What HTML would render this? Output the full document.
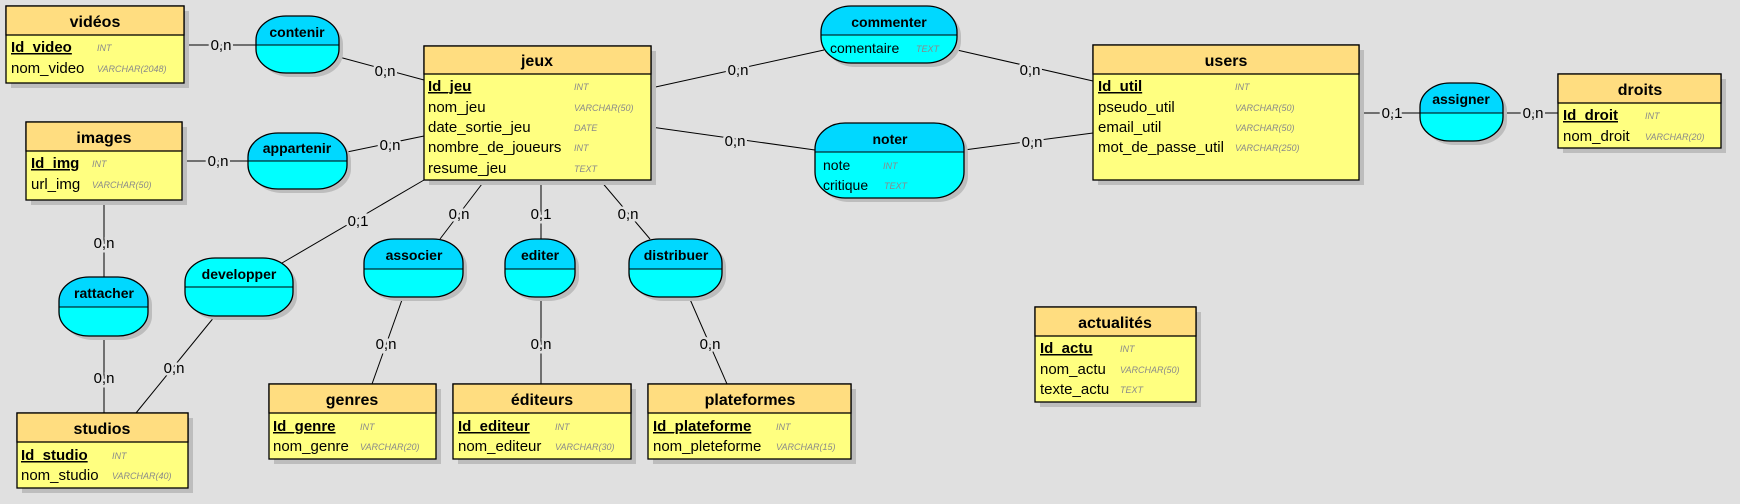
<!DOCTYPE html>
<html><head><meta charset="utf-8"><style>
html,body{margin:0;padding:0;background:#e0e0e0;}
svg{display:block;font-family:"Liberation Sans",sans-serif;}
.t{font-weight:bold;font-size:16px;text-anchor:middle;}
.a{font-size:15px;}
.k{font-size:15px;font-weight:bold;text-decoration:underline;}
.ty{font-size:9px;font-style:italic;fill:#8a8a8a;}
.l{font-size:15px;text-anchor:middle;paint-order:stroke;stroke:#e0e0e0;stroke-width:5px;}
.ln{stroke:#000;stroke-width:1;fill:none;}
.sh{fill:#bdbdbd;}
.body{fill:#ffff80;stroke:#000;stroke-width:1.3;}
.hd{fill:#ffdd80;stroke:#000;stroke-width:1.3;}
.top{fill:#00d8ff;}
.bot{fill:#00ffff;}
</style></head><body>
<svg width="1740" height="504" viewBox="0 0 1740 504">
<rect width="1740" height="504" fill="#e0e0e0"/>
<defs>
<clipPath id="c1"><rect x="256" y="16" width="83" height="57" rx="30" ry="24"/></clipPath>
<clipPath id="c2"><rect x="248" y="133" width="99" height="56" rx="30" ry="24"/></clipPath>
<clipPath id="c3"><rect x="821" y="6" width="136" height="57" rx="30" ry="26"/></clipPath>
<clipPath id="c4"><rect x="815" y="123" width="149" height="75" rx="30" ry="26"/></clipPath>
<clipPath id="c5"><rect x="1420" y="83" width="83" height="58" rx="30" ry="24"/></clipPath>
<clipPath id="c6"><rect x="59" y="277" width="89" height="59" rx="30" ry="24"/></clipPath>
<clipPath id="c7"><rect x="185" y="258" width="108" height="58" rx="30" ry="24"/></clipPath>
<clipPath id="c8"><rect x="364" y="239" width="99" height="58" rx="30" ry="24"/></clipPath>
<clipPath id="c9"><rect x="505" y="239" width="70" height="58" rx="30" ry="24"/></clipPath>
<clipPath id="c10"><rect x="629" y="239" width="93" height="58" rx="30" ry="24"/></clipPath>
</defs>

<!-- connectors -->
<g class="ln">
<line x1="184" y1="45" x2="256" y2="45"/>
<line x1="339" y1="57" x2="424" y2="80"/>
<line x1="182" y1="161" x2="248" y2="161"/>
<line x1="347" y1="152" x2="424" y2="136"/>
<line x1="651" y1="88" x2="824" y2="50"/>
<line x1="957" y1="50" x2="1093" y2="81"/>
<line x1="651" y1="127" x2="815" y2="150"/>
<line x1="964" y1="150" x2="1093" y2="133"/>
<line x1="1359" y1="113" x2="1420" y2="113"/>
<line x1="1503" y1="113" x2="1558" y2="113"/>
<line x1="104" y1="200" x2="104" y2="277"/>
<line x1="104" y1="336" x2="104" y2="413"/>
<line x1="424" y1="180" x2="282" y2="263"/>
<line x1="215" y1="316" x2="136" y2="413"/>
<line x1="485" y1="180" x2="440" y2="239"/>
<line x1="403" y1="297" x2="372" y2="384"/>
<line x1="541" y1="180" x2="541" y2="239"/>
<line x1="541" y1="297" x2="541" y2="384"/>
<line x1="600" y1="180" x2="650" y2="239"/>
<line x1="689" y1="297" x2="727" y2="384"/>
</g>

<!-- labels -->
<g class="l">
<text x="221" y="50">0,n</text>
<text x="385" y="76">0,n</text>
<text x="218" y="166">0,n</text>
<text x="390" y="150">0,n</text>
<text x="738" y="75">0,n</text>
<text x="1030" y="75">0,n</text>
<text x="735" y="146">0,n</text>
<text x="1032" y="147">0,n</text>
<text x="1392" y="118">0,1</text>
<text x="1533" y="118">0,n</text>
<text x="104" y="248">0,n</text>
<text x="104" y="383">0,n</text>
<text x="358" y="226">0,1</text>
<text x="174" y="373">0,n</text>
<text x="459" y="219">0,n</text>
<text x="386" y="349">0,n</text>
<text x="541" y="219">0,1</text>
<text x="541" y="349">0,n</text>
<text x="628" y="219">0,n</text>
<text x="710" y="349">0,n</text>
</g>

<!-- associations -->
<g>
<rect x="260" y="20" width="83" height="57" rx="30" ry="24" class="sh"/>
<g clip-path="url(#c1)"><rect x="256" y="16" width="83" height="29" class="top"/><rect x="256" y="45" width="83" height="28" class="bot"/></g>
<rect x="256" y="16" width="83" height="57" rx="30" ry="24" fill="none" stroke="#000" stroke-width="1.3"/>
<line x1="256" y1="45" x2="339" y2="45" stroke="#000"/>
<text x="297" y="37" class="t" style="font-size:14px">contenir</text>

<rect x="252" y="137" width="99" height="56" rx="30" ry="24" class="sh"/>
<g clip-path="url(#c2)"><rect x="248" y="133" width="99" height="28" class="top"/><rect x="248" y="161" width="99" height="28" class="bot"/></g>
<rect x="248" y="133" width="99" height="56" rx="30" ry="24" fill="none" stroke="#000" stroke-width="1.3"/>
<line x1="248" y1="161" x2="347" y2="161" stroke="#000"/>
<text x="297" y="153" class="t" style="font-size:14px">appartenir</text>

<rect x="825" y="10" width="136" height="57" rx="30" ry="26" class="sh"/>
<g clip-path="url(#c3)"><rect x="821" y="6" width="136" height="29" class="top"/><rect x="821" y="35" width="136" height="28" class="bot"/></g>
<rect x="821" y="6" width="136" height="57" rx="30" ry="26" fill="none" stroke="#000" stroke-width="1.3"/>
<line x1="821" y1="35" x2="957" y2="35" stroke="#000"/>
<text x="889" y="27" class="t" style="font-size:14px">commenter</text>
<text x="830" y="53" class="a" style="font-size:14px">comentaire</text>
<text x="916" y="52" class="ty">TEXT</text>

<rect x="819" y="127" width="149" height="75" rx="30" ry="26" class="sh"/>
<g clip-path="url(#c4)"><rect x="815" y="123" width="149" height="29" class="top"/><rect x="815" y="152" width="149" height="46" class="bot"/></g>
<rect x="815" y="123" width="149" height="75" rx="30" ry="26" fill="none" stroke="#000" stroke-width="1.3"/>
<line x1="815" y1="152" x2="964" y2="152" stroke="#000"/>
<text x="890" y="144" class="t" style="font-size:14px">noter</text>
<text x="823" y="170" class="a" style="font-size:14px">note</text>
<text x="883" y="169" class="ty">INT</text>
<text x="823" y="190" class="a" style="font-size:14px">critique</text>
<text x="884" y="189" class="ty">TEXT</text>

<rect x="1424" y="87" width="83" height="58" rx="30" ry="24" class="sh"/>
<g clip-path="url(#c5)"><rect x="1420" y="83" width="83" height="30" class="top"/><rect x="1420" y="113" width="83" height="28" class="bot"/></g>
<rect x="1420" y="83" width="83" height="58" rx="30" ry="24" fill="none" stroke="#000" stroke-width="1.3"/>
<line x1="1420" y1="113" x2="1503" y2="113" stroke="#000"/>
<text x="1461" y="104" class="t" style="font-size:14px">assigner</text>

<rect x="63" y="281" width="89" height="59" rx="30" ry="24" class="sh"/>
<g clip-path="url(#c6)"><rect x="59" y="277" width="89" height="30" class="top"/><rect x="59" y="307" width="89" height="29" class="bot"/></g>
<rect x="59" y="277" width="89" height="59" rx="30" ry="24" fill="none" stroke="#000" stroke-width="1.3"/>
<line x1="59" y1="307" x2="148" y2="307" stroke="#000"/>
<text x="104" y="298" class="t" style="font-size:14px">rattacher</text>

<rect x="189" y="262" width="108" height="58" rx="30" ry="24" class="sh"/>
<g clip-path="url(#c7)"><rect x="185" y="258" width="108" height="29" class="top" style="fill:#00ffff"/><rect x="185" y="287" width="108" height="29" class="bot"/></g>
<rect x="185" y="258" width="108" height="58" rx="30" ry="24" fill="none" stroke="#000" stroke-width="1.3"/>
<line x1="185" y1="287" x2="293" y2="287" stroke="#000"/>
<text x="239" y="279" class="t" style="font-size:14px">developper</text>

<rect x="368" y="243" width="99" height="58" rx="30" ry="24" class="sh"/>
<g clip-path="url(#c8)"><rect x="364" y="239" width="99" height="30" class="top"/><rect x="364" y="269" width="99" height="28" class="bot"/></g>
<rect x="364" y="239" width="99" height="58" rx="30" ry="24" fill="none" stroke="#000" stroke-width="1.3"/>
<line x1="364" y1="269" x2="463" y2="269" stroke="#000"/>
<text x="414" y="260" class="t" style="font-size:14px">associer</text>

<rect x="509" y="243" width="70" height="58" rx="30" ry="24" class="sh"/>
<g clip-path="url(#c9)"><rect x="505" y="239" width="70" height="30" class="top"/><rect x="505" y="269" width="70" height="28" class="bot"/></g>
<rect x="505" y="239" width="70" height="58" rx="30" ry="24" fill="none" stroke="#000" stroke-width="1.3"/>
<line x1="505" y1="269" x2="575" y2="269" stroke="#000"/>
<text x="540" y="260" class="t" style="font-size:14px">editer</text>

<rect x="633" y="243" width="93" height="58" rx="30" ry="24" class="sh"/>
<g clip-path="url(#c10)"><rect x="629" y="239" width="93" height="30" class="top"/><rect x="629" y="269" width="93" height="28" class="bot"/></g>
<rect x="629" y="239" width="93" height="58" rx="30" ry="24" fill="none" stroke="#000" stroke-width="1.3"/>
<line x1="629" y1="269" x2="722" y2="269" stroke="#000"/>
<text x="676" y="260" class="t" style="font-size:14px">distribuer</text>
</g>

<!-- entities -->
<!-- videos -->
<rect x="11" y="11" width="178" height="77" class="sh"/>
<rect x="6" y="6" width="178" height="77" class="body"/>
<rect x="6" y="6" width="178" height="29" class="hd"/>
<text x="95" y="27" class="t">vidéos</text>
<text x="11" y="52" class="k">Id_video</text><text x="97" y="51" class="ty">INT</text>
<text x="11" y="73" class="a">nom_video</text><text x="97" y="72" class="ty">VARCHAR(2048)</text>

<!-- images -->
<rect x="31" y="127" width="156" height="78" class="sh"/>
<rect x="26" y="122" width="156" height="78" class="body"/>
<rect x="26" y="122" width="156" height="29" class="hd"/>
<text x="104" y="143" class="t">images</text>
<text x="31" y="168" class="k">Id_img</text><text x="92" y="167" class="ty">INT</text>
<text x="31" y="189" class="a">url_img</text><text x="92" y="188" class="ty">VARCHAR(50)</text>

<!-- jeux -->
<rect x="429" y="51" width="227" height="134" class="sh"/>
<rect x="424" y="46" width="227" height="134" class="body"/>
<rect x="424" y="46" width="227" height="28" class="hd"/>
<text x="537" y="66" class="t">jeux</text>
<text x="428" y="91" class="k">Id_jeu</text><text x="574" y="90" class="ty">INT</text>
<text x="428" y="112" class="a">nom_jeu</text><text x="574" y="111" class="ty">VARCHAR(50)</text>
<text x="428" y="132" class="a">date_sortie_jeu</text><text x="574" y="131" class="ty">DATE</text>
<text x="428" y="152" class="a">nombre_de_joueurs</text><text x="574" y="151" class="ty">INT</text>
<text x="428" y="173" class="a">resume_jeu</text><text x="574" y="172" class="ty">TEXT</text>

<!-- users -->
<rect x="1098" y="50" width="266" height="135" class="sh"/>
<rect x="1093" y="45" width="266" height="135" class="body"/>
<rect x="1093" y="45" width="266" height="29" class="hd"/>
<text x="1226" y="66" class="t">users</text>
<text x="1098" y="91" class="k">Id_util</text><text x="1235" y="90" class="ty">INT</text>
<text x="1098" y="112" class="a">pseudo_util</text><text x="1235" y="111" class="ty">VARCHAR(50)</text>
<text x="1098" y="132" class="a">email_util</text><text x="1235" y="131" class="ty">VARCHAR(50)</text>
<text x="1098" y="152" class="a">mot_de_passe_util</text><text x="1235" y="151" class="ty">VARCHAR(250)</text>

<!-- droits -->
<rect x="1563" y="79" width="163" height="74" class="sh"/>
<rect x="1558" y="74" width="163" height="74" class="body"/>
<rect x="1558" y="74" width="163" height="29" class="hd"/>
<text x="1640" y="95" class="t">droits</text>
<text x="1563" y="120" class="k">Id_droit</text><text x="1645" y="119" class="ty">INT</text>
<text x="1563" y="141" class="a">nom_droit</text><text x="1645" y="140" class="ty">VARCHAR(20)</text>

<!-- studios -->
<rect x="22" y="418" width="171" height="75" class="sh"/>
<rect x="17" y="413" width="171" height="75" class="body"/>
<rect x="17" y="413" width="171" height="29" class="hd"/>
<text x="102" y="434" class="t">studios</text>
<text x="21" y="460" class="k">Id_studio</text><text x="112" y="459" class="ty">INT</text>
<text x="21" y="480" class="a">nom_studio</text><text x="112" y="479" class="ty">VARCHAR(40)</text>

<!-- genres -->
<rect x="274" y="389" width="167" height="75" class="sh"/>
<rect x="269" y="384" width="167" height="75" class="body"/>
<rect x="269" y="384" width="167" height="29" class="hd"/>
<text x="352" y="405" class="t">genres</text>
<text x="273" y="431" class="k">Id_genre</text><text x="360" y="430" class="ty">INT</text>
<text x="273" y="451" class="a">nom_genre</text><text x="360" y="450" class="ty">VARCHAR(20)</text>

<!-- editeurs -->
<rect x="458" y="389" width="178" height="75" class="sh"/>
<rect x="453" y="384" width="178" height="75" class="body"/>
<rect x="453" y="384" width="178" height="29" class="hd"/>
<text x="542" y="405" class="t">éditeurs</text>
<text x="458" y="431" class="k">Id_editeur</text><text x="555" y="430" class="ty">INT</text>
<text x="458" y="451" class="a">nom_editeur</text><text x="555" y="450" class="ty">VARCHAR(30)</text>

<!-- plateformes -->
<rect x="653" y="389" width="203" height="75" class="sh"/>
<rect x="648" y="384" width="203" height="75" class="body"/>
<rect x="648" y="384" width="203" height="29" class="hd"/>
<text x="750" y="405" class="t">plateformes</text>
<text x="653" y="431" class="k">Id_plateforme</text><text x="776" y="430" class="ty">INT</text>
<text x="653" y="451" class="a">nom_pleteforme</text><text x="776" y="450" class="ty">VARCHAR(15)</text>

<!-- actualites -->
<rect x="1040" y="312" width="161" height="95" class="sh"/>
<rect x="1035" y="307" width="161" height="95" class="body"/>
<rect x="1035" y="307" width="161" height="29" class="hd"/>
<text x="1115" y="328" class="t">actualités</text>
<text x="1040" y="353" class="k">Id_actu</text><text x="1120" y="352" class="ty">INT</text>
<text x="1040" y="374" class="a">nom_actu</text><text x="1120" y="373" class="ty">VARCHAR(50)</text>
<text x="1040" y="394" class="a">texte_actu</text><text x="1120" y="393" class="ty">TEXT</text>
</svg>
</body></html>
